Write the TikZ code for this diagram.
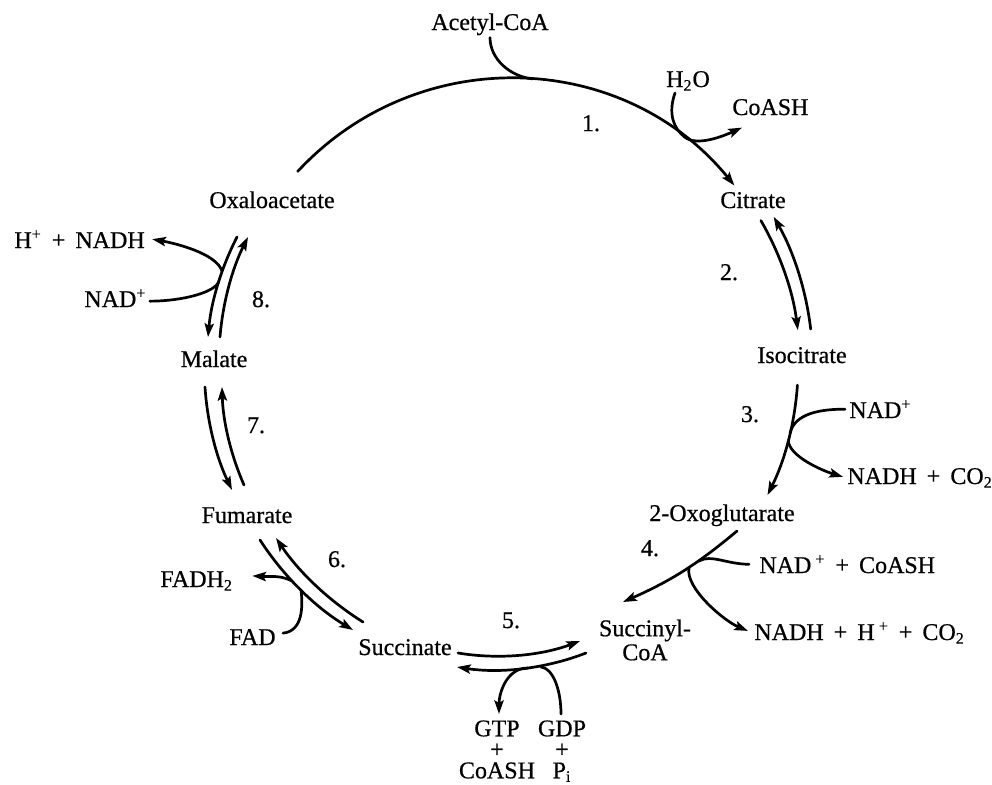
\documentclass[tikz,border=0pt]{standalone}
\usepackage{fontspec}
\setmainfont{Liberation Serif}[FakeBold=0.6]
\usetikzlibrary{arrows.meta,calc}
% a slightly wider word gap for the longer reagent lists
\newcommand{\wsp}{\hspace{0.42em}}
\begin{document}
\begin{tikzpicture}[x=0.5pt,y=-0.5pt,
  lbl/.style={inner sep=1pt,font=\fontsize{12}{14}\selectfont},
  stack/.style={inner sep=1pt,align=center,font=\fontsize{12}{10.5}\selectfont},
  flow/.style={line width=1.35pt,line cap=round},
  rxn/.style={flow,-{Stealth[length=6.8pt,width=4.6pt,inset=1.3pt]}},
  arcfit/.style={looseness=0.86}]
\useasboundingbox (0,0) rectangle (992,784);

% compounds
\node[lbl,anchor=base] (oxa) at (272,208) {Oxaloacetate};
\node[lbl,anchor=base] (cit) at (753,208) {Citrate};
\node[lbl,anchor=base] (iso) at (802,363) {Isocitrate};
\node[lbl,anchor=base] (oxg) at (722,521) {2-Oxoglutarate};
\node[stack,font=\fontsize{12}{12}\selectfont] (sucoa) at (645,640) {Succinyl-\\CoA};
\node[lbl,anchor=base] (succ) at (405,655) {Succinate};
\node[lbl,anchor=base] (fum) at (247,523) {Fumarate};
\node[lbl,anchor=base] (mal) at (214,367) {Malate};

% step numbers
\node[lbl,anchor=base] (n1) at (591,131) {1.};
\node[lbl,anchor=base] (n2) at (729,280) {2.};
\node[lbl,anchor=base] (n3) at (750,422) {3.};
\node[lbl,anchor=base] (n4) at (650,556) {4.};
\node[lbl,anchor=base] (n5) at (511,628) {5.};
\node[lbl,anchor=base] (n6) at (337,567) {6.};
\node[lbl,anchor=base] (n7) at (256,433) {7.};
\node[lbl,anchor=base] (n8) at (261,307) {8.};

% co-substrates and co-products
\node[lbl,anchor=base] (acetyl) at (490,30) {Acetyl-CoA};
\node[lbl,anchor=base] (h2o) at (688,87) {H\textsubscript{2}O};
\node[lbl,anchor=base west] (coash1) at (730,115) {CoASH};
\node[lbl,anchor=base west] (nad3) at (847,418) {NAD\textsuperscript{+}};
\node[lbl,anchor=base west] (nadh3) at (845,484) {NADH\wsp+\wsp CO\textsubscript{2}};
\node[lbl,anchor=base west] (nad4) at (757,573) {NAD\,\textsuperscript{+}\wsp+\wsp CoASH};
\node[lbl,anchor=base west] (nadh4) at (752,640) {NADH\wsp+\wsp H\,\textsuperscript{+}\wsp+\wsp CO\textsubscript{2}};
\node[stack,anchor=north] (gtp) at (497,718) {GTP\\+\\CoASH};
\node[stack,anchor=north] (gdp) at (562,718) {GDP\\+\\P\textsubscript{i}};
\node[lbl,anchor=base west] (fadh) at (158,587) {FADH\textsubscript{2}};
\node[lbl,anchor=base west] (fad) at (227,645) {FAD};
\node[lbl,anchor=base west] (hnadh) at (12,248) {H\textsuperscript{+}\wsp+\wsp NADH};
\node[lbl,anchor=base west] (nad8) at (82,307) {NAD\textsuperscript{+}};

% arrow ends and junctions on the cycle
\coordinate (a1s) at (297.7,171.4);
\coordinate (a1e) at (734.4,185.5);
\coordinate (j1a) at (533,78.9);
\coordinate (j1b) at (685,137.3);
\coordinate (r2a) at (760.9,220.6);
\coordinate (r2b) at (797.8,330.2);
\coordinate (r2c) at (810.7,329.1);
\coordinate (r2d) at (773.7,216.8);
\coordinate (r3a) at (797.4,385.1);
\coordinate (r3b) at (767.5,495);
\coordinate (j3a) at (790.1,433);
\coordinate (j3b) at (788.2,440.5);
\coordinate (r4a) at (737,531);
\coordinate (r4b) at (623,602);
\coordinate (j4a) at (699,561);
\coordinate (j4b) at (689,568);
\coordinate (r5a) at (458,653);
\coordinate (r5b) at (580,641);
\coordinate (r5c) at (586,653);
\coordinate (r5d) at (457,667);
\coordinate (j5a) at (528,668);
\coordinate (j5b) at (541,667);
\coordinate (r6a) at (260,540);
\coordinate (r6b) at (353,630);
\coordinate (r6c) at (363,622);
\coordinate (r6d) at (276,538);
\coordinate (j6a) at (292,581);
\coordinate (j6b) at (301,590);
\coordinate (r7a) at (205,387);
\coordinate (r7b) at (232,490);
\coordinate (r7c) at (244,485);
\coordinate (r7d) at (222,387);
\coordinate (r8a) at (237,237);
\coordinate (r8b) at (208,337);
\coordinate (r8c) at (220,337);
\coordinate (r8d) at (248,237);
\coordinate (j8a) at (222,271);
\coordinate (j8b) at (219,281);

% 1. citrate synthase
\draw[rxn] (a1s) to[bend left=49,looseness=1.03] (a1e);
\draw[flow] (acetyl.south) .. controls +(0,22) and +(-22,-2) .. (j1a);
\draw[rxn] ($(h2o.south)+(-13,0)$) .. controls +(-7,20) and +(-12,-9) .. (j1b)
  .. controls +(12,9) and +(-20,9) .. ($(coash1.south west)+(12,10)$);

% 2. aconitase
\draw[rxn] (r2a) to[bend left=11.5,arcfit] (r2b);
\draw[rxn] (r2c) to[bend right=11.5,arcfit] (r2d);

% 3. isocitrate dehydrogenase
\draw[rxn] (r3a) to[bend left=11.4,arcfit] (r3b);
\draw[flow] ($(nad3.west)+(-2,0)$) .. controls +(-25,0) and +(4.7,-19.5) .. (j3a);
\draw[rxn] (j3b) .. controls +(1,16) and +(-20,-6) .. ($(nadh3.west)+(-2,-1)$);

% 4. 2-oxoglutarate dehydrogenase
\draw[rxn] (r4a) to[bend left=8] (r4b);
\draw[flow] ($(nad4.west)+(-8,0)$) .. controls +(-22,0) and +(12,-7) .. (j4a);
\draw[rxn] (j4b) .. controls +(-4,20) and +(-24,-10) .. ($(nadh4.west)+(-4,-2)$);

% 5. succinyl-CoA synthetase
\draw[rxn] (r5a) to[bend right=15,arcfit] (r5b);
\draw[rxn] (r5c) to[bend left=15,arcfit] (r5d);
\draw[rxn] (j5a) .. controls +(-22,0) and +(0,-20) .. ($(gtp.north)+(2,-4)$);
\draw[flow] ($(gdp.north)+(-1,-4)$) .. controls +(0,-24) and +(12,1) .. (j5b);

% 6. succinate dehydrogenase
\draw[rxn] (r6a) to[bend right=13,arcfit] (r6b);
\draw[rxn] (r6c) to[bend left=12,arcfit] (r6d);
\draw[rxn] (j6a) .. controls +(-12,-6) and +(20,1) .. ($(fadh.east)+(17,-5)$);
\draw[flow] ($(fad.east)+(5,-4)$) .. controls +(20,-2) and +(2,16) .. (j6b);

% 7. fumarase
\draw[rxn] (r7a) to[bend right=11,arcfit] (r7b);
\draw[rxn] (r7c) to[bend left=11,arcfit] (r7d);

% 8. malate dehydrogenase
\draw[rxn] (r8a) to[bend right=11,arcfit] (r8b);
\draw[rxn] (r8c) to[bend left=11,arcfit] (r8d);
\draw[rxn] (j8a) .. controls +(-6,-18) and +(22,4) .. ($(hnadh.east)+(5,0)$);
\draw[flow] ($(nad8.east)+(1,3)$) .. controls +(32,0) and +(-3.3,11.5) .. (j8b);
\end{tikzpicture}
\end{document}
